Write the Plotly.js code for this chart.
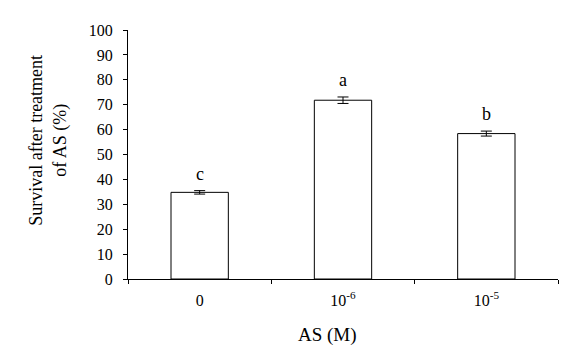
<!DOCTYPE html>
<html>
<head>
<meta charset="utf-8">
<script src="https://cdn.plot.ly/plotly-3.0.1.min.js"></script>
<style>html,body{margin:0;padding:0;background:#fff;}#chart{width:578px;height:360px;}</style>
</head>
<body>
<div id="chart"></div>
<script>
var categories = ["0", "10<sup>-6</sup>", "10<sup>-5</sup>"];
var survival = [34.8, 71.8, 58.4];
var errors = [0.7, 1.3, 1.0];
var letters = ["c", "a", "b"];
var yTicks = [0, 10, 20, 30, 40, 50, 60, 70, 80, 90, 100];
var xTitle = "AS (M)";
var yTitle = "Survival after treatment<br>of AS (%)";

var serif = "'Liberation Serif', 'Times New Roman', Times, serif";

var trace = {
  type: "bar",
  x: categories,
  y: survival,
  width: 0.4,
  marker: {color: "#ffffff", line: {color: "#000000", width: 1}},
  error_y: {type: "data", array: errors, visible: true, color: "#000000", thickness: 1, width: 5.5},
  hoverinfo: "skip"
};

var annotations = categories.map(function (c, i) {
  return {
    x: c, y: survival[i] + errors[i], xref: "x", yref: "y",
    text: letters[i], showarrow: false, yanchor: "bottom", yshift: 5,
    font: {family: serif, size: 18, color: "#000"}
  };
});
annotations.push({
  xref: "paper", yref: "paper", x: -0.186, y: 0.555, xanchor: "center", yanchor: "middle",
  text: yTitle, textangle: -90, showarrow: false,
  font: {family: serif, size: 18, color: "#000"}
});
annotations.push({
  xref: "paper", yref: "paper", x: 0.463, y: -0.225, xanchor: "center", yanchor: "middle",
  text: xTitle, showarrow: false,
  font: {family: serif, size: 19, color: "#000"}
});

var layout = {
  width: 578, height: 360,
  margin: {l: 128, r: 20, t: 30, b: 81},
  paper_bgcolor: "#fff", plot_bgcolor: "#fff",
  showlegend: false,
  font: {family: serif, color: "#000"},
  xaxis: {
    type: "category", range: [-0.5, 2.5],
    showline: true, linecolor: "#000", linewidth: 1,
    ticks: "outside", ticklen: 4, tickcolor: "#000", tickson: "boundaries",
    showgrid: false, zeroline: false, ticklabelstandoff: 7,
    tickfont: {family: serif, size: 16, color: "#000"}
  },
  yaxis: {
    range: [0, 100], tickvals: yTicks, ticktext: yTicks.map(String),
    showline: true, linecolor: "#000", linewidth: 1,
    ticks: "outside", ticklen: 4, tickcolor: "#000",
    showgrid: false, zeroline: false, ticklabelstandoff: 7,
    tickfont: {family: serif, size: 16, color: "#000"}
  },
  annotations: annotations
};

Plotly.newPlot("chart", [trace], layout, {displayModeBar: false, staticPlot: true});
</script>
</body>
</html>
